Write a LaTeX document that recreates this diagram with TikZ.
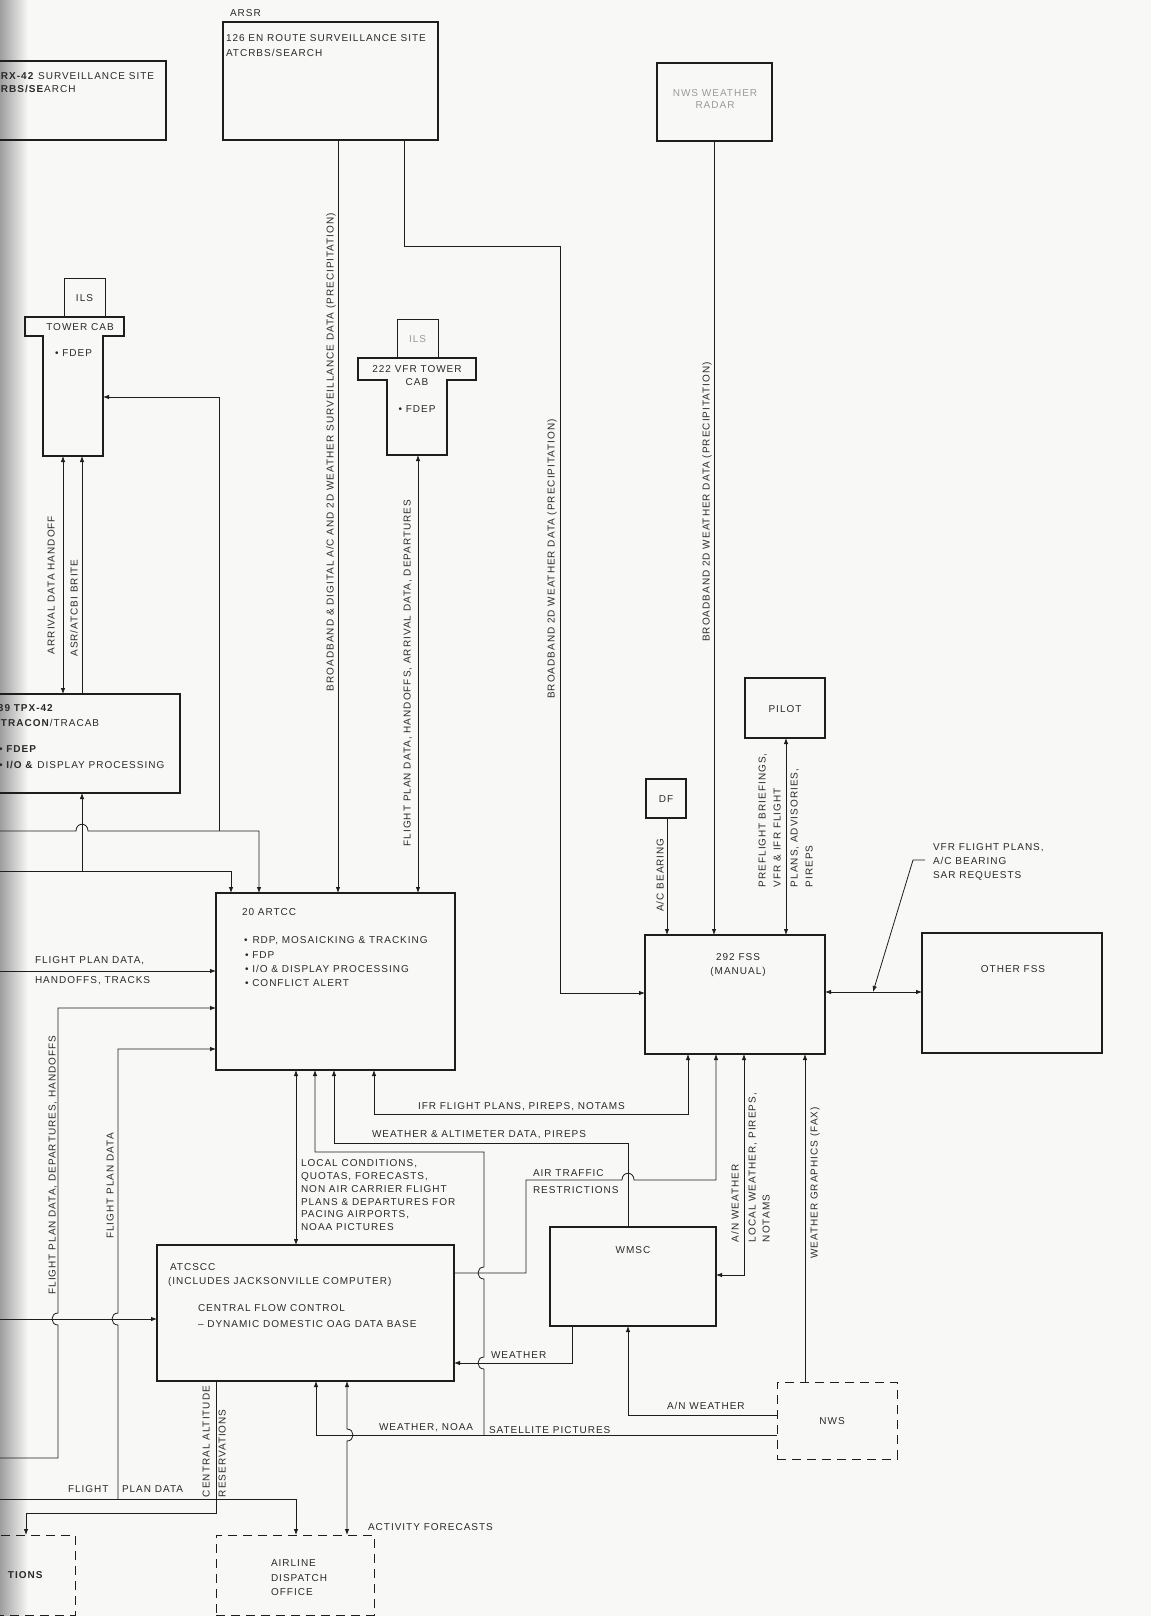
\documentclass[tikz,border=0pt]{standalone}
\usepackage{fontspec}
\setmainfont{Liberation Sans}[LetterSpace=10]
\usetikzlibrary{arrows.meta}
\definecolor{lc}{HTML}{1E1E1E}
\definecolor{tc}{HTML}{2A2A2A}
\definecolor{bg}{HTML}{F8F8F6}
\definecolor{fade}{HTML}{9A9A9A}
\begin{document}
\begin{tikzpicture}[x=1pt,y=-1pt,
  box/.style={draw=lc, line width=1.5pt, inner sep=0pt, outer sep=0pt, anchor=north west},
  hbox/.style={draw=none, inner sep=0pt, outer sep=0pt, anchor=north west},
  tbox/.style={draw=lc, line width=0.7pt, inner sep=0pt, outer sep=0pt, anchor=north west},
  dbox/.style={draw=lc, line width=0.8pt, dash pattern=on 9pt off 6pt, inner sep=0pt, outer sep=0pt, anchor=north west},
  conn/.style={draw=lc, line width=0.8pt},
  arr/.style={conn, -{Latex[length=6pt,width=4.5pt]}},
  darr/.style={conn, {Latex[length=6pt,width=4.5pt]}-{Latex[length=6pt,width=4.5pt]}},
  lbl/.style={inner sep=0pt, outer sep=0pt, text=tc, text height=7.2pt, text depth=0pt, anchor=west},
  clbl/.style={lbl, anchor=center},
  vlbl/.style={lbl, rotate=90, anchor=center},
  vslbl/.style={lbl, rotate=90, anchor=west},
  tline/.style={draw=lc, line width=1.5pt, line join=miter}
]
\useasboundingbox (0,0) rectangle (1151,1616);
\fill[bg] (0,0) rectangle (1151,1616);
\shade[left color=black!38, right color=bg] (0,0) rectangle (28,1616);

% ---------- boxes ----------
\node[box, minimum width=171pt, minimum height=79pt] (tpxsite) at (-5,61) {};
\node[box, minimum width=215pt, minimum height=118pt] (arsr) at (223,22) {};
\node[box, minimum width=115pt, minimum height=78pt] (nwsradar) at (657,63) {};
\node[tbox, minimum width=41pt, minimum height=39pt] (ils1) at (64,278) {};
\node[hbox, minimum width=99pt, minimum height=19pt] (t1bar) at (25,317) {};
\node[hbox, minimum width=60pt, minimum height=120pt] (t1stem) at (43,336) {};
\node[tbox, minimum width=41pt, minimum height=39pt] (ils2) at (397,319) {};
\node[hbox, minimum width=118pt, minimum height=22pt] (t2bar) at (358,358) {};
\node[hbox, minimum width=60pt, minimum height=75pt] (t2stem) at (387,380) {};
\node[box, minimum width=185pt, minimum height=99pt] (tracon) at (-5,694) {};
\node[box, minimum width=239pt, minimum height=177pt] (artcc) at (216,893) {};
\node[box, minimum width=297pt, minimum height=136pt] (atcscc) at (157,1245) {};
\node[box, minimum width=166pt, minimum height=99pt] (wmsc) at (550,1227) {};
\node[box, minimum width=40pt, minimum height=39pt] (df) at (646,779) {};
\node[box, minimum width=80pt, minimum height=60pt] (pilot) at (745,678) {};
\node[box, minimum width=180pt, minimum height=119pt] (fss) at (645,935) {};
\node[box, minimum width=180pt, minimum height=120pt] (ofss) at (922,933) {};
\node[dbox, minimum width=120pt, minimum height=77pt] (nws) at (777,1382) {};
\node[dbox, minimum width=158pt, minimum height=80pt] (airline) at (216,1535) {};
\node[dbox, minimum width=80pt, minimum height=80pt] (leftbox) at (-5,1535) {};

% T-shaped tower outlines
\draw[tline] (t1bar.north west) -- (t1bar.north east) -- (t1bar.south east) -- (t1stem.north east) -- (t1stem.south east) -- (t1stem.south west) -- (t1stem.north west) -- (t1bar.south west) -- cycle;
\draw[tline] (t2bar.north west) -- (t2bar.north east) -- (t2bar.south east) -- (t2stem.north east) -- (t2stem.south east) -- (t2stem.south west) -- (t2stem.north west) -- (t2bar.south west) -- cycle;

% ---------- box texts ----------
\node[lbl] (tpxA) at (1,76) {\textbf{RX-42} SURVEILLANCE SITE};
\node[lbl] (tpxB) at (1,89) {\textbf{RBS/SE}ARCH};
\node[lbl] (arsrL) at (230,13) {ARSR};
\node[lbl] (arsrA) at (226,38) {126 EN ROUTE SURVEILLANCE SITE};
\node[lbl] (arsrB) at (226,53) {ATCRBS/SEARCH};
\node[clbl, text=fade] (nwsrA) at (715,93) {NWS WEATHER};
\node[clbl, text=fade] (nwsrB) at (715,105) {RADAR};
\node[clbl] (ils1T) at (ils1) {ILS};
\node[clbl] (t1T) at (80,327) {TOWER CAB};
\node[lbl] (t1F) at (55,353) {• FDEP};
\node[clbl, text=fade] (ils2T) at (ils2) {ILS};
\node[clbl] (t2A) at (417,369) {222 VFR TOWER};
\node[clbl] (t2B) at (417,382) {CAB};
\node[clbl] (t2F) at (417,409) {• FDEP};
\node[lbl] (trA) at (-2,708) {\textbf{39 TPX-42}};
\node[lbl] (trB) at (1,723) {\textbf{TRACON}/TRACAB};
\node[lbl] (trC) at (-1,749) {\textbf{• FDEP}};
\node[lbl] (trD) at (-1,765) {\textbf{• I/O \&} DISPLAY PROCESSING};
\node[lbl] (arA) at (242,912) {20 ARTCC};
\node[lbl] (arB) at (244,940) {•\hspace{5pt}RDP, MOSAICKING \& TRACKING};
\node[lbl] (arC) at (245,955) {• FDP};
\node[lbl] (arD) at (245,969) {• I/O \& DISPLAY PROCESSING};
\node[lbl] (arE) at (245,983) {• CONFLICT ALERT};
\node[lbl] (acA) at (170,1267) {ATCSCC};
\node[lbl] (acB) at (168,1281) {(INCLUDES JACKSONVILLE COMPUTER)};
\node[lbl] (acC) at (198,1308) {CENTRAL FLOW CONTROL};
\node[lbl] (acD) at (198,1324) {– DYNAMIC DOMESTIC OAG DATA BASE};
\node[clbl] (wmscT) at (633,1250) {WMSC};
\node[clbl] (dfT) at (df) {DF};
\node[clbl] (pilotT) at (785,709) {PILOT};
\node[clbl] (fssA) at (738,957) {292 FSS};
\node[clbl] (fssB) at (738,971) {(MANUAL)};
\node[clbl] (ofssT) at (1013,969) {OTHER FSS};
\node[clbl] (nwsT) at (832,1421) {NWS};
\node[lbl] (alA) at (271,1563) {AIRLINE};
\node[lbl] (alB) at (271,1578) {DISPATCH};
\node[lbl] (alC) at (271,1592) {OFFICE};
\node[lbl] (lbT) at (8,1575) {\textbf{TIONS}};

% ---------- coordinates for connector ends ----------
\coordinate (v26) at (26,0);   \coordinate (v63) at (63,0);   \coordinate (v82) at (82,0);
\coordinate (v216) at (216,0); \coordinate (v231) at (231,0); \coordinate (v259) at (259,0);
\coordinate (v296) at (296,0); \coordinate (v315) at (315,0); \coordinate (v316) at (316,0);
\coordinate (v334) at (334,0); \coordinate (v338) at (338,0); \coordinate (v347) at (347,0);
\coordinate (v374) at (374,0); \coordinate (v404) at (404,0); \coordinate (v418) at (418,0);
\coordinate (v572) at (572,0); \coordinate (v628) at (628,0); \coordinate (v667) at (667,0);
\coordinate (v688) at (688,0); \coordinate (v714) at (714,0); \coordinate (v716) at (716,0);
\coordinate (v744) at (744,0); \coordinate (v786) at (786,0); \coordinate (v805) at (805,0);
\coordinate (h397) at (0,397); \coordinate (h971) at (0,971); \coordinate (h992) at (0,992);
\coordinate (h993) at (0,993);
\coordinate (h1008) at (0,1008); \coordinate (h1049) at (0,1049); \coordinate (h1273) at (0,1273);
\coordinate (h1275) at (0,1275); \coordinate (h1319) at (0,1319); \coordinate (h1363) at (0,1363);
\coordinate (h1415) at (0,1415); \coordinate (h1435) at (0,1435);
\coordinate (in831) at (-2,831); \coordinate (in871) at (-2,871); \coordinate (in971) at (-2,971);
\coordinate (in1458) at (-2,1458); \coordinate (in1499) at (-2,1499); \coordinate (in1319) at (-2,1319);
\coordinate (ptrS) at (925,860); \coordinate (ptrE) at (873,992);

% ---------- connectors ----------
\draw[arr] (arsr.south -| v338) -- (artcc.north -| v338);
\draw[arr] (arsr.south -| v404) -- (404,246) -- (560,246) -- (560,993) -- (fss.west |- h993);
\draw[arr] (nwsradar.south -| v714) -- (fss.north -| v714);
\draw[arr] (df.south -| v667) -- (fss.north -| v667);
\draw[darr] (pilot.south -| v786) -- (fss.north -| v786);
\draw[darr] (fss.east |- h992) -- (ofss.west |- h992);
\draw[arr] (ptrS) -- (913,860) -- (ptrE);

\draw[darr] (t1stem.south -| v63) -- (tracon.north -| v63);
\draw[arr] (tracon.north -| v82) -- (t1stem.south -| v82);
\draw[arr] (in831) -- (76,831) .. controls (76,822) and (88,822) .. (88,831) -- (259,831) -- (artcc.north -| v259);
\draw[arr] (219,831) -- (219,397) -- (t1stem.east |- h397);
\draw[arr] (in871) -- (231,871) -- (artcc.north -| v231);
\draw[arr] (82,871) -- (tracon.south -| v82);
\draw[darr] (t2stem.south -| v418) -- (artcc.north -| v418);

\draw[arr] (in971) -- (artcc.west |- h971);
\draw[arr] (in1458) -- (58,1458) -- (58,1325) .. controls (50,1325) and (50,1313) .. (58,1313) -- (58,1008) -- (artcc.west |- h1008);
\draw[arr] (118,1499) -- (118,1325) .. controls (110,1325) and (110,1313) .. (118,1313) -- (118,1049) -- (artcc.west |- h1049);
\draw[arr] (in1499) -- (296,1499) -- (airline.north -| v296);
\draw[arr] (in1319) -- (atcscc.west |- h1319);

\draw[darr] (artcc.south -| v296) -- (atcscc.north -| v296);
\draw[arr] (484,1435) -- (484,1369) .. controls (476,1369) and (476,1357) .. (484,1357) -- (484,1279) .. controls (476,1279) and (476,1267) .. (484,1267) -- (484,1152) -- (315,1152) -- (artcc.south -| v315);
\draw[arr] (wmsc.north -| v628) -- (628,1143) -- (334,1143) -- (artcc.south -| v334);
\draw[darr] (fss.south -| v688) -- (688,1114) -- (374,1114) -- (artcc.south -| v374);
\draw[arr] (atcscc.east |- h1273) -- (526,1273) -- (526,1180) -- (622,1180) .. controls (622,1171) and (634,1171) .. (634,1180) -- (716,1180) -- (fss.south -| v716);
\draw[darr] (fss.south -| v744) -- (744,1275) -- (wmsc.east |- h1275);
\draw[arr] (nws.north -| v805) -- (fss.south -| v805);
\draw[arr] (nws.west |- h1415) -- (628,1415) -- (wmsc.south -| v628);
\draw[arr] (wmsc.south -| v572) -- (572,1363) -- (atcscc.east |- h1363);
\draw[arr] (nws.west |- h1435) -- (316,1435) -- (atcscc.south -| v316);
\draw[darr] (atcscc.south -| v347) -- (347,1429) .. controls (355,1429) and (355,1441) .. (347,1441) -- (airline.north -| v347);
\draw[arr] (atcscc.south -| v216) -- (216,1513) -- (26,1513) -- (leftbox.north -| v26);

% ---------- connector labels ----------
\node[vlbl] (lArr) at (51,585) {ARRIVAL DATA HANDOFF};
\node[vlbl] (lAsr) at (74,608) {ASR/ATCBI BRITE};
\node[vlbl] (lBb1) at (330,452) {BROADBAND \& DIGITAL A/C AND 2D WEATHER SURVEILLANCE DATA (PRECIPITATION)};
\node[vlbl] (lFpd) at (407,673) {FLIGHT PLAN DATA, HANDOFFS, ARRIVAL DATA, DEPARTURES};
\node[vlbl] (lBb2) at (551,559) {BROADBAND 2D WEATHER DATA (PRECIPITATION)};
\node[vlbl] (lBb3) at (706,502) {BROADBAND 2D WEATHER DATA (PRECIPITATION)};
\node[vlbl] (lAcb) at (660,875) {A/C BEARING};
\node[vslbl] (lPf1) at (762,887) {PREFLIGHT BRIEFINGS,};
\node[vslbl] (lPf2) at (777,887) {VFR \& IFR FLIGHT};
\node[vslbl] (lPf3) at (794,887) {PLANS, ADVISORIES,};
\node[vslbl] (lPf4) at (809,887) {PIREPS};
\node[lbl] (lVfr1) at (933,847) {VFR FLIGHT PLANS,};
\node[lbl] (lVfr2) at (933,861) {A/C BEARING};
\node[lbl] (lVfr3) at (933,875) {SAR REQUESTS};
\node[lbl] (lFp1) at (35,960) {FLIGHT PLAN DATA,};
\node[lbl] (lFp2) at (35,980) {HANDOFFS, TRACKS};
\node[vlbl] (lFdh) at (52,1165) {FLIGHT PLAN DATA, DEPARTURES, HANDOFFS};
\node[vlbl] (lFpv) at (110,1186) {FLIGHT PLAN DATA};
\node[lbl] (lIfr) at (418,1106) {IFR FLIGHT PLANS, PIREPS, NOTAMS};
\node[lbl] (lWad) at (372,1134) {WEATHER \& ALTIMETER DATA, PIREPS};
\node[lbl] (lLc1) at (301,1163) {LOCAL CONDITIONS,};
\node[lbl] (lLc2) at (301,1176) {QUOTAS, FORECASTS,};
\node[lbl] (lLc3) at (301,1189) {NON AIR CARRIER FLIGHT};
\node[lbl] (lLc4) at (301,1202) {PLANS \& DEPARTURES FOR};
\node[lbl] (lLc5) at (301,1214) {PACING AIRPORTS,};
\node[lbl] (lLc6) at (301,1227) {NOAA PICTURES};
\node[lbl] (lAt1) at (533,1173) {AIR TRAFFIC};
\node[lbl] (lAt2) at (533,1190) {RESTRICTIONS};
\node[vslbl] (lAnw) at (735,1242) {A/N WEATHER};
\node[vslbl] (lLw1) at (752,1242) {LOCAL WEATHER, PIREPS,};
\node[vslbl] (lLw2) at (766,1242) {NOTAMS};
\node[vlbl] (lWg) at (814,1183) {WEATHER GRAPHICS (FAX)};
\node[lbl] (lWth) at (491,1355) {WEATHER};
\node[lbl] (lAnw2) at (667,1406) {A/N WEATHER};
\node[lbl] (lWn) at (379,1427) {WEATHER, NOAA};
\node[lbl] (lSat) at (489,1430) {SATELLITE PICTURES};
\node[lbl] (lAct) at (368,1527) {ACTIVITY FORECASTS};
\node[lbl] (lFl) at (68,1489) {FLIGHT};
\node[lbl] (lPd) at (122,1489) {PLAN DATA};
\node[vslbl] (lCa1) at (206,1497) {CENTRAL ALTITUDE};
\node[vslbl] (lCa2) at (222,1497) {RESERVATIONS};
\end{tikzpicture}
\end{document}
